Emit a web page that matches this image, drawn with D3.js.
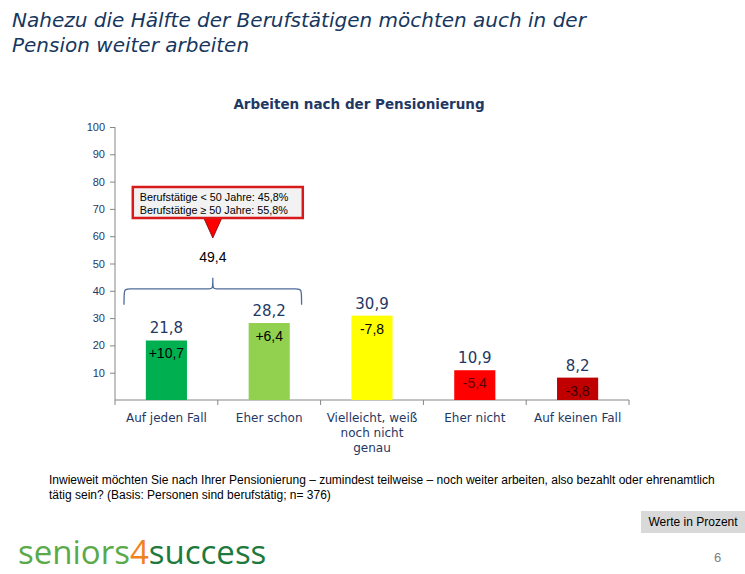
<!DOCTYPE html>
<html><head><meta charset="utf-8">
<script src="https://cdn.jsdelivr.net/npm/d3@7"></script>
<style>body{margin:0;background:#fff}svg{display:block}</style>
</head><body>
<svg id="c" width="745" height="574"></svg>
<script>
const categories = [["Auf jeden Fall"], ["Eher schon"], ["Vielleicht, weiß", "noch nicht", "genau"], ["Eher nicht"], ["Auf keinen Fall"]];
const values = [21.8, 28.2, 30.9, 10.9, 8.2];
const diffs = ["+10,7", "+6,4", "-7,8", "-5,4", "-3,8"];
const barColors = ["#00b050", "#92d050", "#ffff00", "#ff0000", "#c00000"];
const diffColors = ["#000", "#000", "#000", "#5a0000", "#3a0000"];
const yTicks = [10, 20, 30, 40, 50, 60, 70, 80, 90, 100];
const groupSum = 49.4;
const callout = ["Berufstätige < 50 Jahre: 45,8%", "Berufstätige ≥ 50 Jahre: 55,8%"];

const svg = d3.select("#c");
const navy = "#1f3864";
const fmt = v => String(v).replace(".", ",");

// headline
svg.append("text").attr("x", 12).attr("y", 27).attr("fill", "#17375e")
  .style("font", "italic 20px 'DejaVu Sans'").text("Nahezu die Hälfte der Berufstätigen möchten auch in der");
svg.append("text").attr("x", 12).attr("y", 52).attr("fill", "#17375e")
  .style("font", "italic 20px 'DejaVu Sans'").text("Pension weiter arbeiten");

// chart title
svg.append("text").attr("x", 359).attr("y", 109).attr("text-anchor", "middle").attr("fill", navy)
  .style("font", "bold 13.5px 'DejaVu Sans'").text("Arbeiten nach der Pensionierung");

const x = d3.scaleBand().domain(d3.range(values.length)).range([115, 629]).paddingInner(0.6).paddingOuter(0.3);
const xb = d3.scaleBand().domain(d3.range(values.length)).range([115, 629]);
const y = d3.scaleLinear().domain([0, 100]).range([400, 127]);

// y axis
const ya = svg.append("g").attr("transform", "translate(115,0)")
  .call(d3.axisLeft(y).tickValues(yTicks).tickSize(5).tickPadding(5).tickFormat(d3.format("d")));
ya.select(".domain").attr("stroke", "#868686").attr("d", `M0,${y(0)}V${y(100)}`);
ya.selectAll(".tick line").attr("stroke", "#868686");
ya.selectAll(".tick text").attr("fill", navy).style("font", "11px 'Liberation Sans'");

// x axis line + ticks at band boundaries
svg.append("line").attr("x1", 115).attr("x2", 629).attr("y1", y(0)).attr("y2", y(0)).attr("stroke", "#868686");
svg.selectAll(".xt").data(d3.range(values.length + 1)).enter().append("line")
  .attr("x1", i => i < values.length ? xb(i) : xb(values.length - 1) + xb.bandwidth())
  .attr("x2", i => i < values.length ? xb(i) : xb(values.length - 1) + xb.bandwidth())
  .attr("y1", y(0)).attr("y2", y(0) + 5).attr("stroke", "#868686");

// bars
svg.selectAll(".bar").data(values).enter().append("rect")
  .attr("x", (d, i) => x(i)).attr("width", x.bandwidth())
  .attr("y", d => y(d)).attr("height", d => y(0) - y(d)).attr("fill", (d, i) => barColors[i]);

// value labels
svg.selectAll(".vl").data(values).enter().append("text")
  .attr("x", (d, i) => x(i) + x.bandwidth() / 2).attr("y", d => y(d) - 7)
  .attr("text-anchor", "middle").attr("fill", navy).style("font", "15px 'DejaVu Sans'")
  .text(d => fmt(d));

// diff labels
svg.selectAll(".dl").data(values).enter().append("text")
  .attr("x", (d, i) => x(i) + x.bandwidth() / 2).attr("y", d => y(d) + 18)
  .attr("text-anchor", "middle").attr("fill", (d, i) => diffColors[i]).style("font", "14px 'Liberation Sans'")
  .text((d, i) => diffs[i]);

// category labels
categories.forEach((lines, i) => {
  const t = svg.append("text").attr("x", xb(i) + xb.bandwidth() / 2).attr("y", 422)
    .attr("text-anchor", "middle").attr("fill", navy).style("font", "12px 'DejaVu Sans'");
  lines.forEach((l, j) => t.append("tspan").attr("x", xb(i) + xb.bandwidth() / 2).attr("dy", j ? 15 : 0).text(l));
});

// brace over first two categories
const bl = xb(0) + 9, br = xb(1) + xb.bandwidth() - 19, bm = (bl + br) / 2;
const by = y(40) - 2, be = by + 16, bt = by - 11;
svg.append("path").attr("fill", "none").attr("stroke", "#4f6d9a").attr("stroke-width", 1.3)
  .attr("d", `M${bl},${be} C${bl},${by} ${bl},${by} ${bl + 6},${by} H${bm - 4} C${bm},${by} ${bm},${by} ${bm},${bt}
              C${bm},${by} ${bm},${by} ${bm + 4},${by} H${br - 6} C${br},${by} ${br},${by} ${br},${be}`);
svg.append("text").attr("x", bm).attr("y", bt - 16).attr("text-anchor", "middle").attr("fill", "#000")
  .style("font", "14px 'Liberation Sans'").text(fmt(groupSum));

// callout
const cw = 170, ch = 31, cx = bm - 80, cy = 187;
svg.append("path").attr("d", `M${bm - 9},${cy + ch} L${bm + 9},${cy + ch} L${bm},${cy + ch + 20} Z`)
  .attr("fill", "#ff0000").attr("stroke", "#7f0000").attr("stroke-width", 0.8);
svg.append("rect").attr("x", cx).attr("y", cy).attr("width", cw).attr("height", ch)
  .attr("fill", "#f2f2f2").attr("stroke", "#d91a1a").attr("stroke-width", 2.5);
callout.forEach((l, j) => svg.append("text").attr("x", cx + 7).attr("y", cy + 13.5 + j * 13)
  .attr("fill", "#000").style("font", "10.8px 'Liberation Sans Narrow','Liberation Sans'").text(l));

// footnote
const note = ["Inwieweit möchten Sie nach Ihrer Pensionierung – zumindest teilweise – noch weiter arbeiten, also bezahlt oder ehrenamtlich",
  "tätig sein? (Basis: Personen sind berufstätig; n= 376)"];
note.forEach((l, j) => svg.append("text").attr("x", 49).attr("y", 484 + j * 15).attr("fill", "#000")
  .style("font", "12px 'Liberation Sans Narrow','Liberation Sans'").text(l));

// unit box
svg.append("rect").attr("x", 641).attr("y", 511).attr("width", 104).attr("height", 22).attr("fill", "#d9d9d9");
svg.append("text").attr("x", 693).attr("y", 526).attr("text-anchor", "middle").attr("fill", "#000")
  .style("font", "12px 'Liberation Sans Narrow','Liberation Sans'").text("Werte in Prozent");

// logo
const lg = svg.append("text").attr("x", 18).attr("y", 564).style("font", "33px 'Open Sans'");
lg.append("tspan").attr("fill", "#5aaa4a").text("seniors");
lg.append("tspan").attr("fill", "#f0821e").text("4");
lg.append("tspan").attr("fill", "#1e7a3c").text("success");

svg.append("text").attr("x", 714).attr("y", 562).attr("fill", "#808080")
  .style("font", "13px 'Liberation Sans Narrow','Liberation Sans'").text("6");
</script>
</body></html>
